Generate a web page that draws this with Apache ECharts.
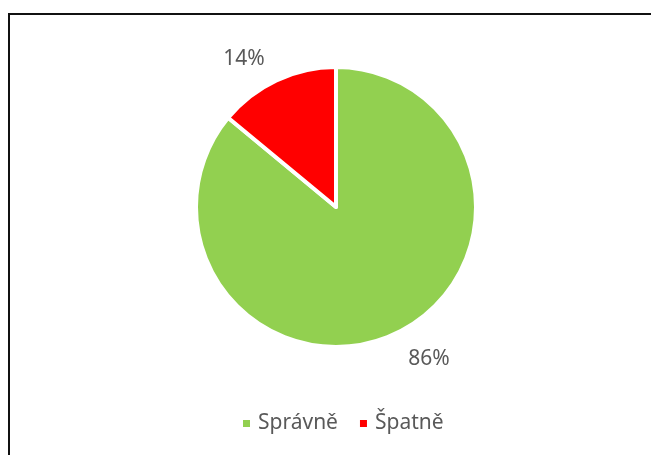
<!DOCTYPE html>
<html>
<head>
<meta charset="utf-8">
<script src="https://cdn.jsdelivr.net/npm/echarts@6/dist/echarts.min.js"></script>
<style>
    html, body { margin: 0; padding: 0; background: #fff; }
    #main { position: absolute; left: 0; top: 0; width: 651px; height: 455px; }
    /* ramecek grafu */
    #frame { position: absolute; left: 8px; top: 13px; width: 700px; height: 500px;
             border-left: 2px solid #111; border-top: 2px solid #111; }
</style>
</head>
<body>
<div id="frame"></div>
<div id="main"></div>
<script>
//data grafu
var categories = ['Správně', 'Špatně'];
var values = [86, 14];
var colors = ['#92D050', '#FF0000'];

var pieData = [];
for (var i = 0; i < categories.length; i++) {
    pieData.push({ name: categories[i], value: values[i], itemStyle: { color: colors[i] } });
}

var chart = echarts.init(document.getElementById('main'));
chart.setOption({
    animation: false,
    legend: {
        data: categories,
        left: 236,
        top: 408,
        icon: 'rect',
        itemWidth: 9,
        itemHeight: 9,
        itemGap: 20,
        textStyle: {
            color: '#595959',
            fontSize: 21,
            fontFamily: 'Noto Sans',
            padding: [0, 0, 0, 2]
        }
    },
    series: [{
        type: 'pie',
        center: [336, 207],
        radius: 140,
        startAngle: 90,
        clockwise: true,
        itemStyle: { borderColor: '#fff', borderWidth: 4 },
        label: {
            show: true,
            position: 'outside',
            formatter: '{c}%',
            color: '#595959',
            fontSize: 21,
            fontFamily: 'Noto Sans'
        },
        labelLine: { show: false, length: 25, length2: 0 },
        //jemne posunuti popisku (best fit jako v Excelu)
        labelLayout: function(params) {
            return params.dataIndex == 0 ? { dx: -3, dy: 3 } : { dx: 4, dy: 1 };
        },
        emphasis: { disabled: true },
        data: pieData
    }]
});
</script>
</body>
</html>
